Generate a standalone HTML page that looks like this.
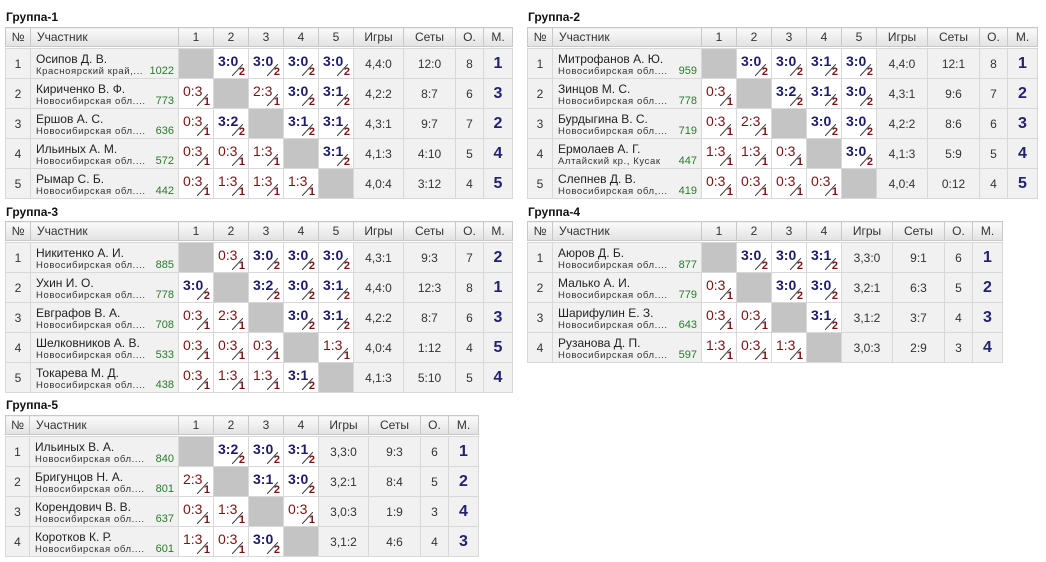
<!DOCTYPE html>
<html><head><meta charset="utf-8"><style>
body{margin:0;width:1046px;height:562px;background:#fff;position:relative;font-family:"Liberation Sans",Arial,sans-serif;overflow:hidden}
.t{position:absolute;font-weight:bold;font-size:12px;color:#111}
table{position:absolute;border-collapse:collapse;table-layout:fixed;font-size:12px;color:#333}
.h td{height:18px;padding:0;text-align:center;border:1px solid #c8c8c8;background:linear-gradient(#fafafa,#e2e2e2);color:#333}
.h td.l{text-align:left;padding-left:6px}
.b{border:1px solid #a8a8a8}
.b td{height:29px;padding:0;border:1px solid #d8d8d8;background:#f1f1f1;text-align:center;position:relative;line-height:14px}
.b td.n{text-align:left;padding-left:5px;vertical-align:top}
.n .nm{position:absolute;left:5px;top:3px;font-size:12px;line-height:14px;color:#222;white-space:nowrap}
.n .rg{position:absolute;left:5px;top:17px;font-size:9.5px;line-height:11px;letter-spacing:.6px;color:#333;white-space:nowrap}
.n .r{position:absolute;right:4px;top:16px;font-size:11px;line-height:12px;color:#2a7a2a;letter-spacing:0}
.b td.x{background:#c4c4c4}
.b td.w,.b td.o{background:#fff;text-align:left;vertical-align:top}
.w b,.o b{position:absolute;left:4px;top:4px;font-size:14px;line-height:16px}
.w b{color:#1c1c6a;font-weight:bold}
.o b{color:#7a1414;font-weight:normal}
.w i,.o i{position:absolute;right:3px;bottom:0px;font-style:normal;font-weight:bold;font-size:11px;line-height:12px;color:#7a1414}
.w::after,.o::after{content:"";position:absolute;left:18px;top:15px;width:11px;height:12px;background:linear-gradient(to bottom right,transparent 45%,#333 49%,#333 51%,transparent 55%)}
.b td.p{font-size:16px;font-weight:bold;color:#22226e}
</style></head><body>

<div class="t" style="left:6px;top:10px">Группа-1</div>
<table class="h" style="left:5px;top:27px;width:507px"><colgroup><col style="width:25px"><col style="width:148px"><col style="width:35px"><col style="width:35px"><col style="width:35px"><col style="width:35px"><col style="width:35px"><col style="width:50px"><col style="width:52px"><col style="width:28px"><col style="width:29px"></colgroup>
<tr><td>№</td><td class="l">Участник</td><td>1</td><td>2</td><td>3</td><td>4</td><td>5</td><td>Игры</td><td>Сеты</td><td>О.</td><td>М.</td></tr></table>
<table class="b" style="left:5px;top:48px;width:507px"><colgroup><col style="width:25px"><col style="width:148px"><col style="width:35px"><col style="width:35px"><col style="width:35px"><col style="width:35px"><col style="width:35px"><col style="width:50px"><col style="width:52px"><col style="width:28px"><col style="width:29px"></colgroup>
<tr><td>1</td><td class="n"><span class="nm">Осипов Д. В.</span><span class="rg">Красноярский край,...</span><span class="r">1022</span></td><td class="x"></td><td class="w"><b>3:0</b><i>2</i></td><td class="w"><b>3:0</b><i>2</i></td><td class="w"><b>3:0</b><i>2</i></td><td class="w"><b>3:0</b><i>2</i></td><td>4,4:0</td><td>12:0</td><td>8</td><td class="p">1</td></tr>
<tr><td>2</td><td class="n"><span class="nm">Кириченко В. Ф.</span><span class="rg">Новосибирская обл....</span><span class="r">773</span></td><td class="o"><b>0:3</b><i>1</i></td><td class="x"></td><td class="o"><b>2:3</b><i>1</i></td><td class="w"><b>3:0</b><i>2</i></td><td class="w"><b>3:1</b><i>2</i></td><td>4,2:2</td><td>8:7</td><td>6</td><td class="p">3</td></tr>
<tr><td>3</td><td class="n"><span class="nm">Ершов А. С.</span><span class="rg">Новосибирская обл....</span><span class="r">636</span></td><td class="o"><b>0:3</b><i>1</i></td><td class="w"><b>3:2</b><i>2</i></td><td class="x"></td><td class="w"><b>3:1</b><i>2</i></td><td class="w"><b>3:1</b><i>2</i></td><td>4,3:1</td><td>9:7</td><td>7</td><td class="p">2</td></tr>
<tr><td>4</td><td class="n"><span class="nm">Ильиных А. М.</span><span class="rg">Новосибирская обл....</span><span class="r">572</span></td><td class="o"><b>0:3</b><i>1</i></td><td class="o"><b>0:3</b><i>1</i></td><td class="o"><b>1:3</b><i>1</i></td><td class="x"></td><td class="w"><b>3:1</b><i>2</i></td><td>4,1:3</td><td>4:10</td><td>5</td><td class="p">4</td></tr>
<tr><td>5</td><td class="n"><span class="nm">Рымар С. Б.</span><span class="rg">Новосибирская обл....</span><span class="r">442</span></td><td class="o"><b>0:3</b><i>1</i></td><td class="o"><b>1:3</b><i>1</i></td><td class="o"><b>1:3</b><i>1</i></td><td class="o"><b>1:3</b><i>1</i></td><td class="x"></td><td>4,0:4</td><td>3:12</td><td>4</td><td class="p">5</td></tr></table>

<div class="t" style="left:528px;top:10px">Группа-2</div>
<table class="h" style="left:527px;top:27px;width:510px"><colgroup><col style="width:25px"><col style="width:149px"><col style="width:35px"><col style="width:35px"><col style="width:35px"><col style="width:35px"><col style="width:35px"><col style="width:51px"><col style="width:52px"><col style="width:28px"><col style="width:30px"></colgroup>
<tr><td>№</td><td class="l">Участник</td><td>1</td><td>2</td><td>3</td><td>4</td><td>5</td><td>Игры</td><td>Сеты</td><td>О.</td><td>М.</td></tr></table>
<table class="b" style="left:527px;top:48px;width:510px"><colgroup><col style="width:25px"><col style="width:149px"><col style="width:35px"><col style="width:35px"><col style="width:35px"><col style="width:35px"><col style="width:35px"><col style="width:51px"><col style="width:52px"><col style="width:28px"><col style="width:30px"></colgroup>
<tr><td>1</td><td class="n"><span class="nm">Митрофанов А. Ю.</span><span class="rg">Новосибирская обл....</span><span class="r">959</span></td><td class="x"></td><td class="w"><b>3:0</b><i>2</i></td><td class="w"><b>3:0</b><i>2</i></td><td class="w"><b>3:1</b><i>2</i></td><td class="w"><b>3:0</b><i>2</i></td><td>4,4:0</td><td>12:1</td><td>8</td><td class="p">1</td></tr>
<tr><td>2</td><td class="n"><span class="nm">Зинцов М. С.</span><span class="rg">Новосибирская обл....</span><span class="r">778</span></td><td class="o"><b>0:3</b><i>1</i></td><td class="x"></td><td class="w"><b>3:2</b><i>2</i></td><td class="w"><b>3:1</b><i>2</i></td><td class="w"><b>3:0</b><i>2</i></td><td>4,3:1</td><td>9:6</td><td>7</td><td class="p">2</td></tr>
<tr><td>3</td><td class="n"><span class="nm">Бурдыгина В. С.</span><span class="rg">Новосибирская обл....</span><span class="r">719</span></td><td class="o"><b>0:3</b><i>1</i></td><td class="o"><b>2:3</b><i>1</i></td><td class="x"></td><td class="w"><b>3:0</b><i>2</i></td><td class="w"><b>3:0</b><i>2</i></td><td>4,2:2</td><td>8:6</td><td>6</td><td class="p">3</td></tr>
<tr><td>4</td><td class="n"><span class="nm">Ермолаев А. Г.</span><span class="rg">Алтайский кр., Кусак</span><span class="r">447</span></td><td class="o"><b>1:3</b><i>1</i></td><td class="o"><b>1:3</b><i>1</i></td><td class="o"><b>0:3</b><i>1</i></td><td class="x"></td><td class="w"><b>3:0</b><i>2</i></td><td>4,1:3</td><td>5:9</td><td>5</td><td class="p">4</td></tr>
<tr><td>5</td><td class="n"><span class="nm">Слепнев Д. В.</span><span class="rg">Новосибирская обл,...</span><span class="r">419</span></td><td class="o"><b>0:3</b><i>1</i></td><td class="o"><b>0:3</b><i>1</i></td><td class="o"><b>0:3</b><i>1</i></td><td class="o"><b>0:3</b><i>1</i></td><td class="x"></td><td>4,0:4</td><td>0:12</td><td>4</td><td class="p">5</td></tr></table>

<div class="t" style="left:6px;top:205px">Группа-3</div>
<table class="h" style="left:5px;top:221px;width:507px"><colgroup><col style="width:25px"><col style="width:148px"><col style="width:35px"><col style="width:35px"><col style="width:35px"><col style="width:35px"><col style="width:35px"><col style="width:50px"><col style="width:52px"><col style="width:28px"><col style="width:29px"></colgroup>
<tr><td>№</td><td class="l">Участник</td><td>1</td><td>2</td><td>3</td><td>4</td><td>5</td><td>Игры</td><td>Сеты</td><td>О.</td><td>М.</td></tr></table>
<table class="b" style="left:5px;top:242px;width:507px"><colgroup><col style="width:25px"><col style="width:148px"><col style="width:35px"><col style="width:35px"><col style="width:35px"><col style="width:35px"><col style="width:35px"><col style="width:50px"><col style="width:52px"><col style="width:28px"><col style="width:29px"></colgroup>
<tr><td>1</td><td class="n"><span class="nm">Никитенко А. И.</span><span class="rg">Новосибирская обл....</span><span class="r">885</span></td><td class="x"></td><td class="o"><b>0:3</b><i>1</i></td><td class="w"><b>3:0</b><i>2</i></td><td class="w"><b>3:0</b><i>2</i></td><td class="w"><b>3:0</b><i>2</i></td><td>4,3:1</td><td>9:3</td><td>7</td><td class="p">2</td></tr>
<tr><td>2</td><td class="n"><span class="nm">Ухин И. О.</span><span class="rg">Новосибирская обл....</span><span class="r">778</span></td><td class="w"><b>3:0</b><i>2</i></td><td class="x"></td><td class="w"><b>3:2</b><i>2</i></td><td class="w"><b>3:0</b><i>2</i></td><td class="w"><b>3:1</b><i>2</i></td><td>4,4:0</td><td>12:3</td><td>8</td><td class="p">1</td></tr>
<tr><td>3</td><td class="n"><span class="nm">Евграфов В. А.</span><span class="rg">Новосибирская обл....</span><span class="r">708</span></td><td class="o"><b>0:3</b><i>1</i></td><td class="o"><b>2:3</b><i>1</i></td><td class="x"></td><td class="w"><b>3:0</b><i>2</i></td><td class="w"><b>3:1</b><i>2</i></td><td>4,2:2</td><td>8:7</td><td>6</td><td class="p">3</td></tr>
<tr><td>4</td><td class="n"><span class="nm">Шелковников А. В.</span><span class="rg">Новосибирская обл....</span><span class="r">533</span></td><td class="o"><b>0:3</b><i>1</i></td><td class="o"><b>0:3</b><i>1</i></td><td class="o"><b>0:3</b><i>1</i></td><td class="x"></td><td class="o"><b>1:3</b><i>1</i></td><td>4,0:4</td><td>1:12</td><td>4</td><td class="p">5</td></tr>
<tr><td>5</td><td class="n"><span class="nm">Токарева М. Д.</span><span class="rg">Новосибирская обл....</span><span class="r">438</span></td><td class="o"><b>0:3</b><i>1</i></td><td class="o"><b>1:3</b><i>1</i></td><td class="o"><b>1:3</b><i>1</i></td><td class="w"><b>3:1</b><i>2</i></td><td class="x"></td><td>4,1:3</td><td>5:10</td><td>5</td><td class="p">4</td></tr></table>

<div class="t" style="left:528px;top:205px">Группа-4</div>
<table class="h" style="left:527px;top:221px;width:475px"><colgroup><col style="width:25px"><col style="width:149px"><col style="width:35px"><col style="width:35px"><col style="width:35px"><col style="width:35px"><col style="width:51px"><col style="width:52px"><col style="width:28px"><col style="width:30px"></colgroup>
<tr><td>№</td><td class="l">Участник</td><td>1</td><td>2</td><td>3</td><td>4</td><td>Игры</td><td>Сеты</td><td>О.</td><td>М.</td></tr></table>
<table class="b" style="left:527px;top:242px;width:475px"><colgroup><col style="width:25px"><col style="width:149px"><col style="width:35px"><col style="width:35px"><col style="width:35px"><col style="width:35px"><col style="width:51px"><col style="width:52px"><col style="width:28px"><col style="width:30px"></colgroup>
<tr><td>1</td><td class="n"><span class="nm">Аюров Д. Б.</span><span class="rg">Новосибирская обл....</span><span class="r">877</span></td><td class="x"></td><td class="w"><b>3:0</b><i>2</i></td><td class="w"><b>3:0</b><i>2</i></td><td class="w"><b>3:1</b><i>2</i></td><td>3,3:0</td><td>9:1</td><td>6</td><td class="p">1</td></tr>
<tr><td>2</td><td class="n"><span class="nm">Малько А. И.</span><span class="rg">Новосибирская обл....</span><span class="r">779</span></td><td class="o"><b>0:3</b><i>1</i></td><td class="x"></td><td class="w"><b>3:0</b><i>2</i></td><td class="w"><b>3:0</b><i>2</i></td><td>3,2:1</td><td>6:3</td><td>5</td><td class="p">2</td></tr>
<tr><td>3</td><td class="n"><span class="nm">Шарифулин Е. З.</span><span class="rg">Новосибирская обл....</span><span class="r">643</span></td><td class="o"><b>0:3</b><i>1</i></td><td class="o"><b>0:3</b><i>1</i></td><td class="x"></td><td class="w"><b>3:1</b><i>2</i></td><td>3,1:2</td><td>3:7</td><td>4</td><td class="p">3</td></tr>
<tr><td>4</td><td class="n"><span class="nm">Рузанова Д. П.</span><span class="rg">Новосибирская обл....</span><span class="r">597</span></td><td class="o"><b>1:3</b><i>1</i></td><td class="o"><b>0:3</b><i>1</i></td><td class="o"><b>1:3</b><i>1</i></td><td class="x"></td><td>3,0:3</td><td>2:9</td><td>3</td><td class="p">4</td></tr></table>

<div class="t" style="left:6px;top:398px">Группа-5</div>
<table class="h" style="left:5px;top:415px;width:473px"><colgroup><col style="width:24px"><col style="width:149px"><col style="width:35px"><col style="width:35px"><col style="width:35px"><col style="width:35px"><col style="width:50px"><col style="width:52px"><col style="width:28px"><col style="width:30px"></colgroup>
<tr><td>№</td><td class="l">Участник</td><td>1</td><td>2</td><td>3</td><td>4</td><td>Игры</td><td>Сеты</td><td>О.</td><td>М.</td></tr></table>
<table class="b" style="left:5px;top:436px;width:473px"><colgroup><col style="width:24px"><col style="width:149px"><col style="width:35px"><col style="width:35px"><col style="width:35px"><col style="width:35px"><col style="width:50px"><col style="width:52px"><col style="width:28px"><col style="width:30px"></colgroup>
<tr><td>1</td><td class="n"><span class="nm">Ильиных В. А.</span><span class="rg">Новосибирская обл....</span><span class="r">840</span></td><td class="x"></td><td class="w"><b>3:2</b><i>2</i></td><td class="w"><b>3:0</b><i>2</i></td><td class="w"><b>3:1</b><i>2</i></td><td>3,3:0</td><td>9:3</td><td>6</td><td class="p">1</td></tr>
<tr><td>2</td><td class="n"><span class="nm">Бригунцов Н. А.</span><span class="rg">Новосибирская обл....</span><span class="r">801</span></td><td class="o"><b>2:3</b><i>1</i></td><td class="x"></td><td class="w"><b>3:1</b><i>2</i></td><td class="w"><b>3:0</b><i>2</i></td><td>3,2:1</td><td>8:4</td><td>5</td><td class="p">2</td></tr>
<tr><td>3</td><td class="n"><span class="nm">Корендович В. В.</span><span class="rg">Новосибирская обл....</span><span class="r">637</span></td><td class="o"><b>0:3</b><i>1</i></td><td class="o"><b>1:3</b><i>1</i></td><td class="x"></td><td class="o"><b>0:3</b><i>1</i></td><td>3,0:3</td><td>1:9</td><td>3</td><td class="p">4</td></tr>
<tr><td>4</td><td class="n"><span class="nm">Коротков К. Р.</span><span class="rg">Новосибирская обл....</span><span class="r">601</span></td><td class="o"><b>1:3</b><i>1</i></td><td class="o"><b>0:3</b><i>1</i></td><td class="w"><b>3:0</b><i>2</i></td><td class="x"></td><td>3,1:2</td><td>4:6</td><td>4</td><td class="p">3</td></tr></table>
</body></html>
